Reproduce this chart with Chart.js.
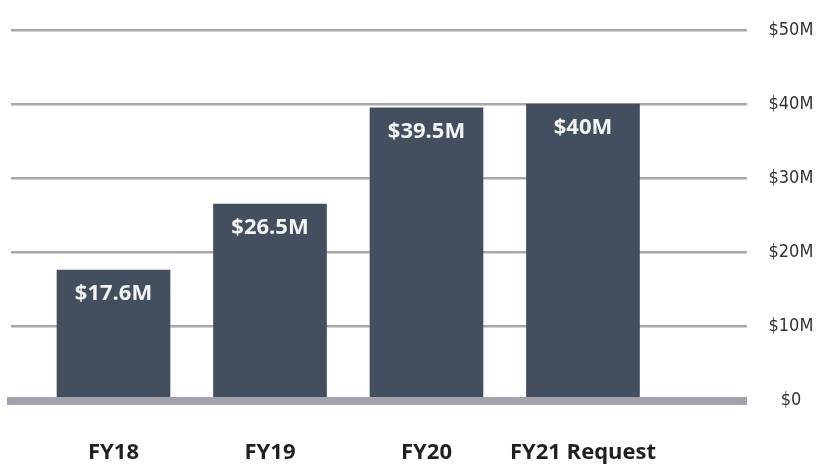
<!DOCTYPE html>
<html>
<head>
<meta charset="utf-8">
<script src="https://cdn.jsdelivr.net/npm/chart.js@4/dist/chart.umd.min.js"></script>
<style>
  html, body { margin: 0; padding: 0; background: #ffffff; }
  #wrap { width: 824px; height: 464px; position: relative; }
</style>
</head>
<body>
<div id="wrap"><canvas id="c" width="824" height="464"></canvas></div>
<script>
// ---- data ----
const categories = ['FY18', 'FY19', 'FY20', 'FY21 Request'];
const fundingMillions = [17.6, 26.5, 39.5, 40];
const yTickValues = [0, 10, 20, 30, 40, 50];
const yTickLabels = ['$0', '$10M', '$20M', '$30M', '$40M', '$50M'];

const barColor = '#434e5e';
const gridColor = '#a7a7ae';
const baseColor = '#a3a3ad';

const barLabelPlugin = {
  id: 'barLabels',
  afterDatasetsDraw(chart) {
    const ctx = chart.ctx;
    const meta = chart.getDatasetMeta(0);
    ctx.save();
    ctx.fillStyle = '#f4f4f4';
    ctx.font = 'bold 22px "Open Sans", sans-serif';
    ctx.textAlign = 'center';
    ctx.textBaseline = 'middle';
    meta.data.forEach((bar, i) => {
      ctx.fillText('$' + fundingMillions[i] + 'M', bar.x, bar.y + 24);
    });
    ctx.restore();
  }
};

new Chart(document.getElementById('c'), {
  type: 'bar',
  data: {
    datasets: [{
      data: fundingMillions.map((v, i) => ({ x: i, y: v })),
      backgroundColor: barColor,
      borderWidth: 0,
      barThickness: 113
    }]
  },
  options: {
    responsive: false,
    animation: false,
    events: [],
    layout: { padding: { left: 11, top: 30, right: 0, bottom: 0 } },
    plugins: { legend: { display: false }, tooltip: { enabled: false } },
    scales: {
      x: {
        type: 'linear',
        offset: false,
        bounds: 'data',
        min: -0.655,
        max: 4.045,
        afterFit(s) { s.height = 63.5; },
        afterBuildTicks(s) {
          s.ticks = categories.map((_, i) => ({ value: i }));
        },
        grid: { display: false, drawTicks: false, offset: false },
        border: { display: true, color: baseColor, width: 8, z: 1 },
        ticks: {
          autoSkip: false,
          maxRotation: 0,
          padding: 39,
          color: '#231f20',
          font: { family: '"Open Sans", sans-serif', size: 22, weight: 'bold' },
          callback: (v) => categories[v] ?? ''
        }
      },
      y: {
        position: 'right',
        min: 0,
        max: 50,
        afterFit(s) { s.width = 77.5; s.paddingTop = 0; s.paddingBottom = 0; },
        afterBuildTicks(s) {
          s.ticks = yTickValues.map(v => ({ value: v }));
        },
        grid: {
          color: (c) => c.tick && c.tick.value === 0 ? 'rgba(0,0,0,0)' : gridColor,
          lineWidth: 2.5,
          drawTicks: false
        },
        border: { display: false },
        ticks: {
          crossAlign: 'center',
          padding: 22,
          color: '#333333',
          font: { family: '"Liberation Sans Narrow", "DejaVu Sans Condensed", sans-serif', size: 18 },
          callback: (v) => yTickLabels[yTickValues.indexOf(v)]
        }
      }
    }
  },
  plugins: [barLabelPlugin]
});
</script>
</body>
</html>
